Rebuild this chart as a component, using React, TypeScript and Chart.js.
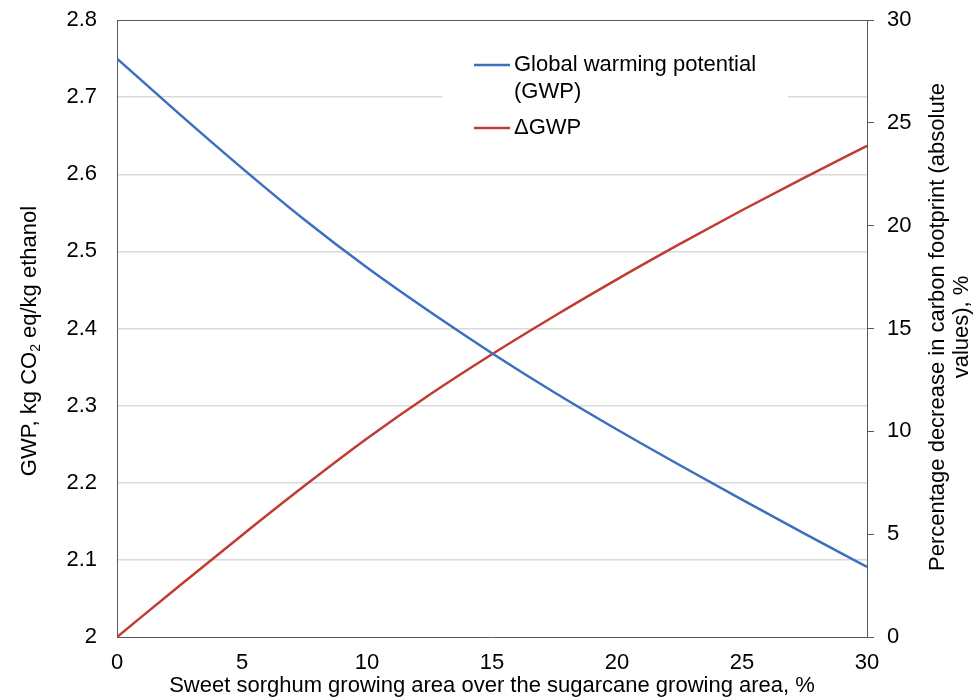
import React, { useEffect, useRef } from "react";
import { Chart, registerables } from "chart.js";

Chart.register(...registerables);

const xValues = [0, 2.5, 5, 7.5, 10, 12.5, 15, 17.5, 20, 22.5, 25, 27.5, 30];
const gwpValues = [2.75, 2.678, 2.608, 2.541, 2.479, 2.422, 2.368, 2.317, 2.269, 2.223, 2.178, 2.134, 2.091];
const deltaGwpValues = [0, 2.49, 4.95, 7.35, 9.65, 11.78, 13.75, 15.61, 17.39, 19.1, 20.75, 22.34, 23.88];

const seriesLabels = [["Global warming potential", "(GWP)"], ["ΔGWP"]];
const xTitle = "Sweet sorghum growing area over the sugarcane growing area, %";
const leftTitleParts = ["GWP, kg CO", "2", " eq/kg ethanol"];
const rightTitleLines = ["Percentage decrease in carbon footprint (absolute", "values), %"];

const BLUE = "#3A70BE";
const RED = "#C23B30";
const AXIS = "#595959";
const GRID = "#D9D9D9";
const FONT = "'Liberation Sans', Arial, sans-serif";

const decorPlugin = {
  id: "decor",
  afterDraw(chart: any) {
    const { ctx, chartArea } = chart;
    ctx.save();
    // top border
    ctx.strokeStyle = AXIS;
    ctx.lineWidth = 1;
    ctx.beginPath();
    ctx.moveTo(chartArea.left, chartArea.top + 0.5);
    ctx.lineTo(chartArea.right, chartArea.top + 0.5);
    ctx.stroke();

    // legend
    ctx.fillStyle = "#ffffff";
    ctx.fillRect(442, 44, 346, 104);
    const colors = [BLUE, RED];
    const ys = [65, 128];
    ctx.font = `22px ${FONT}`;
    ctx.textBaseline = "middle";
    ctx.textAlign = "left";
    seriesLabels.forEach((lines, i) => {
      ctx.strokeStyle = colors[i];
      ctx.lineWidth = 2.5;
      ctx.beginPath();
      ctx.moveTo(474, ys[i]);
      ctx.lineTo(510, ys[i]);
      ctx.stroke();
      ctx.fillStyle = "#000";
      lines.forEach((t, j) => ctx.fillText(t, 514, ys[i] + j * 26.5));
    });

    // left title with subscript
    ctx.save();
    ctx.translate(28, 341);
    ctx.rotate(-Math.PI / 2);
    const mainFont = `22px ${FONT}`;
    const subFont = `14px ${FONT}`;
    ctx.font = mainFont;
    const w0 = ctx.measureText(leftTitleParts[0]).width;
    const w2 = ctx.measureText(leftTitleParts[2]).width;
    ctx.font = subFont;
    const w1 = ctx.measureText(leftTitleParts[1]).width;
    const total = w0 + w1 + w2;
    let x = -total / 2;
    ctx.textBaseline = "alphabetic";
    ctx.fillStyle = "#000";
    ctx.font = mainFont;
    ctx.fillText(leftTitleParts[0], x, 8);
    x += w0;
    ctx.font = subFont;
    ctx.fillText(leftTitleParts[1], x, 12);
    x += w1;
    ctx.font = mainFont;
    ctx.fillText(leftTitleParts[2], x, 8);
    ctx.restore();

    // right title, two lines, reading bottom to top
    ctx.save();
    ctx.translate(950, 327);
    ctx.rotate(-Math.PI / 2);
    ctx.font = mainFont;
    ctx.textAlign = "center";
    ctx.textBaseline = "middle";
    ctx.fillStyle = "#000";
    ctx.fillText(rightTitleLines[0], 0, -12);
    ctx.fillText(rightTitleLines[1], 0, 12);
    ctx.restore();

    ctx.restore();
  },
};

export default function App() {
  const ref = useRef<HTMLCanvasElement | null>(null);

  useEffect(() => {
    if (!ref.current) return;
    const chart = new Chart(ref.current, {
      type: "line",
      data: {
        datasets: [
          {
            label: seriesLabels[0].join(" "),
            data: xValues.map((x, i) => ({ x, y: gwpValues[i] })),
            borderColor: BLUE,
            borderWidth: 2.5,
            pointRadius: 0,
            cubicInterpolationMode: "monotone",
            yAxisID: "y",
          },
          {
            label: seriesLabels[1].join(" "),
            data: xValues.map((x, i) => ({ x, y: deltaGwpValues[i] })),
            borderColor: RED,
            borderWidth: 2.5,
            pointRadius: 0,
            cubicInterpolationMode: "monotone",
            yAxisID: "y1",
          },
        ],
      },
      options: {
        animation: false,
        responsive: false,
        layout: { padding: { top: 20, left: 0, right: 0, bottom: 0 } },
        plugins: { legend: { display: false }, tooltip: { enabled: false } },
        scales: {
          x: {
            type: "linear",
            min: 0,
            max: 30,
            ticks: { stepSize: 5, color: "#000", font: { family: FONT, size: 22 }, padding: 13 },
            grid: { display: false, drawTicks: false },
            border: { display: true, color: AXIS, width: 1 },
            title: {
              display: true,
              text: xTitle,
              color: "#000",
              font: { family: FONT, size: 22, lineHeight: 1 },
              padding: { top: 0, bottom: 0 },
            },
            afterFit: (s: any) => {
              s.height = 60;
              s.paddingLeft = 0;
              s.paddingRight = 0;
            },
          },
          y: {
            position: "left",
            min: 2,
            max: 2.8,
            ticks: {
              stepSize: 0.1,
              color: "#000",
              font: { family: FONT, size: 22 },
              padding: 20,
              callback: (v: any) => String(Number(Number(v).toFixed(1))),
            },
            grid: {
              color: (c: any) => (c.tick && (Math.abs(c.tick.value - 2) < 1e-6 || Math.abs(c.tick.value - 2.8) < 1e-6) ? "rgba(0,0,0,0)" : GRID),
              lineWidth: 1.5,
              drawTicks: false,
            },
            border: { display: true, color: AXIS, width: 1 },
            afterFit: (s: any) => {
              s.width = 117;
              s.paddingTop = 0;
              s.paddingBottom = 0;
            },
          },
          y1: {
            position: "right",
            min: 0,
            max: 30,
            ticks: { stepSize: 5, color: "#000", font: { family: FONT, size: 22 }, padding: 13 },
            grid: { drawOnChartArea: false, drawTicks: true, tickLength: 7, color: AXIS },
            border: { display: true, color: AXIS, width: 1 },
            afterFit: (s: any) => {
              s.width = 107;
              s.paddingTop = 0;
              s.paddingBottom = 0;
            },
          },
        },
      },
      plugins: [decorPlugin],
    } as any);
    return () => chart.destroy();
  }, []);

  return (
    <div style={{ position: "absolute", left: 0, top: 0, width: 974, height: 697, background: "#fff" }}>
      <canvas ref={ref} width={974} height={697} />
    </div>
  );
}
